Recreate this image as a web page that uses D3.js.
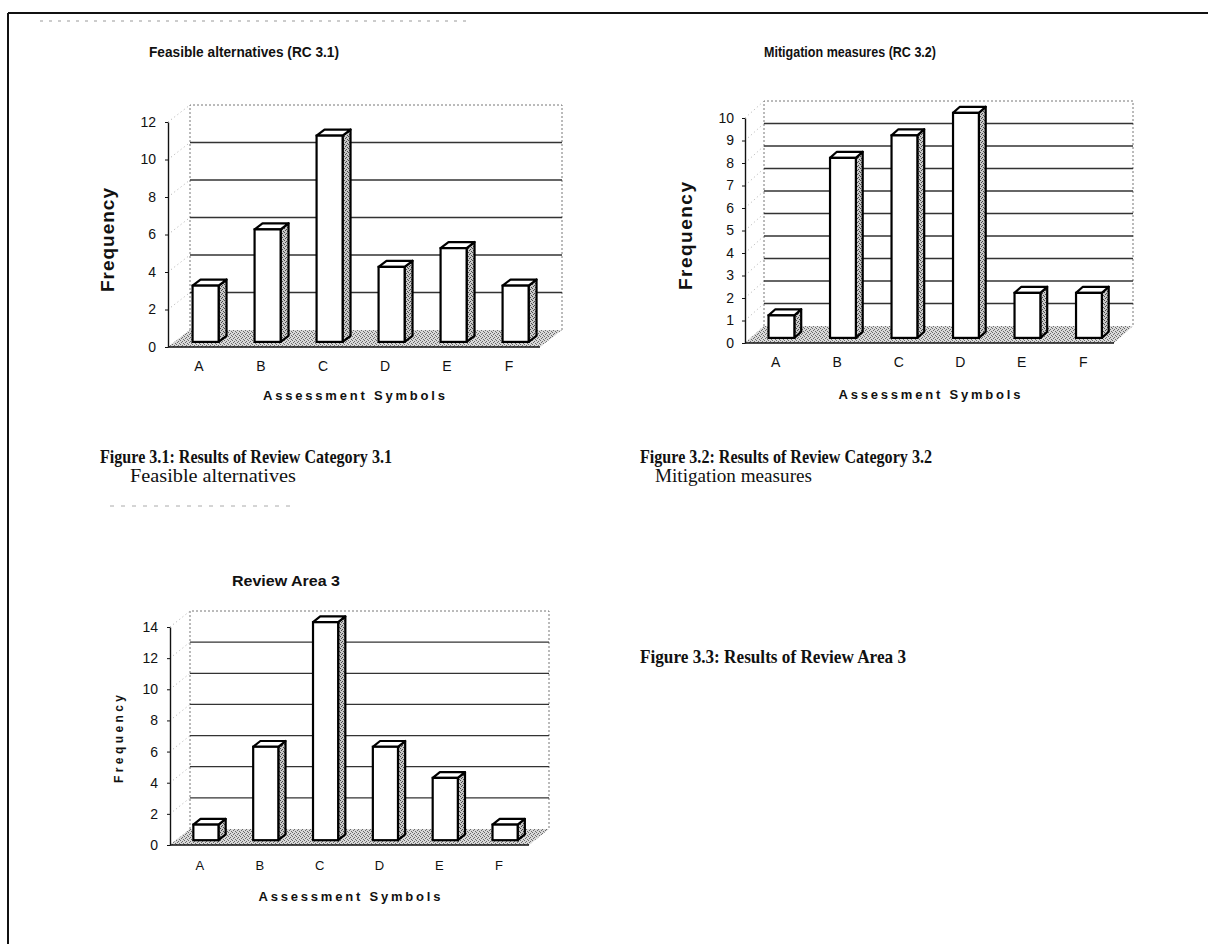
<!DOCTYPE html>
<html>
<head>
<meta charset="utf-8">
<script src="https://cdn.jsdelivr.net/npm/d3@7"></script>
<style>
  html, body { margin: 0; padding: 0; background: #fff; }
  svg { display: block; }
</style>
</head>
<body>
<svg id="page" width="1208" height="944"></svg>
<script>
// Assessment symbols shared by all three charts
const categories = ["A", "B", "C", "D", "E", "F"];

// Frequencies per assessment symbol
const feasibleValues   = [3, 6, 11, 4, 5, 3];   // RC 3.1
const mitigationValues = [1, 8, 9, 10, 2, 2];   // RC 3.2
const reviewAreaValues = [1, 6, 14, 6, 4, 1];   // Review Area 3

// Value-axis tick labels
const feasibleTicks   = [0, 2, 4, 6, 8, 10, 12];
const mitigationTicks = [0, 1, 2, 3, 4, 5, 6, 7, 8, 9, 10];
const reviewAreaTicks = [0, 2, 4, 6, 8, 10, 12, 14];

// Titles and captions
const chartTitles = ["Feasible alternatives (RC 3.1)", "Mitigation measures (RC 3.2)", "Review Area 3"];
const xAxisTitle = "Assessment Symbols";
const yAxisTitle = "Frequency";

const svg = d3.select("#page");
const defs = svg.append("defs");
const SANS = "Liberation Sans, Arial, sans-serif";

// stippled shading used on column sides and on the floor
function stipple(id, bg, dot) {
  const p = defs.append("pattern").attr("id", id)
    .attr("width", 4).attr("height", 4).attr("patternUnits", "userSpaceOnUse");
  p.append("rect").attr("width", 4).attr("height", 4).attr("fill", bg);
  [[0, 0], [2, 1], [1, 2], [3, 3]].forEach(([x, y]) =>
    p.append("rect").attr("x", x).attr("y", y).attr("width", 1).attr("height", 1).attr("fill", dot));
}
stipple("sideShade", "#c8c8c8", "#4a4a4a");
stipple("floorShade", "#d8d8d8", "#6a6a6a");

// page frame (top rule and left rule)
svg.append("line").attr("x1", 8).attr("x2", 1208).attr("y1", 13).attr("y2", 13)
  .attr("stroke", "#111").attr("stroke-width", 2);
svg.append("line").attr("x1", 8).attr("x2", 8).attr("y1", 13).attr("y2", 944)
  .attr("stroke", "#111").attr("stroke-width", 2);
// faint ruled marks under the frame and under the first caption
svg.append("line").attr("x1", 40).attr("x2", 470).attr("y1", 21).attr("y2", 21)
  .attr("stroke", "#999").attr("stroke-width", 1).attr("stroke-dasharray", "3,6");
svg.append("line").attr("x1", 110).attr("x2", 290).attr("y1", 506).attr("y2", 506)
  .attr("stroke", "#aaa").attr("stroke-width", 1).attr("stroke-dasharray", "4,7");

function drawChart(cfg) {
  const g = svg.append("g");
  const { x0, x1, yBase, yTop, dx, dy, max } = cfg;

  const x = d3.scaleBand().domain(categories).range([x0, x1]);
  const y = d3.scaleLinear().domain([0, max]).range([yBase, yTop]);

  // back wall outline (dotted)
  g.append("path")
    .attr("d", `M${x0 + dx},${yBase + dy} V${yTop + dy} H${x1 + dx} V${yBase + dy}`)
    .attr("fill", "none").attr("stroke", "#777").attr("stroke-width", 1)
    .attr("stroke-dasharray", "2,2");

  // back wall gridlines
  g.append("g").selectAll("line").data(cfg.ticks.filter(t => t > 0 && t < max)).join("line")
    .attr("x1", x0 + dx).attr("x2", x1 + dx)
    .attr("y1", d => y(d) + dy).attr("y2", d => y(d) + dy)
    .attr("stroke", "#333").attr("stroke-width", 1.3);

  // side wall connectors
  g.append("g").selectAll("line").data(cfg.ticks).join("line")
    .attr("x1", x0).attr("x2", x0 + dx)
    .attr("y1", d => y(d)).attr("y2", d => y(d) + dy)
    .attr("stroke", "#999").attr("stroke-width", 0.8).attr("stroke-dasharray", "1,3");

  // floor
  g.append("path")
    .attr("d", `M${x0},${yBase} L${x1},${yBase} L${x1 + dx},${yBase + dy} L${x0 + dx},${yBase + dy} Z`)
    .attr("fill", "url(#floorShade)").attr("stroke", "none");
  g.append("line").attr("x1", x0).attr("x2", x1).attr("y1", yBase).attr("y2", yBase)
    .attr("stroke", "#111").attr("stroke-width", 1.6);

  // value axis
  const yAxis = g.append("g").attr("transform", `translate(${x0},0)`)
    .call(d3.axisLeft(y).tickValues(cfg.ticks).tickSize(3).tickSizeOuter(0).tickPadding(cfg.tickPad));
  yAxis.select(".domain").attr("stroke", "#111").attr("stroke-width", 1.4);
  yAxis.selectAll(".tick line").attr("stroke", "#111");
  yAxis.selectAll("text").attr("font-family", SANS)
    .attr("font-size", cfg.tickFont).attr("fill", "#111");

  // category labels
  const xAxis = g.append("g").attr("transform", `translate(0,${yBase + cfg.catGap})`)
    .call(d3.axisBottom(x).tickSize(0).tickPadding(0));
  xAxis.select(".domain").remove();
  xAxis.selectAll("text").attr("font-family", SANS)
    .attr("font-size", cfg.catFont).attr("fill", "#111");

  // columns
  const bw = x.bandwidth() * cfg.barFrac;
  const fx = dx * cfg.frontDepth, fy = dy * cfg.frontDepth;
  const bdx = dx * cfg.barDepth, bdy = dy * cfg.barDepth;
  const cols = g.append("g").selectAll("g").data(cfg.values.map((v, i) => ({ c: categories[i], v })))
    .join("g");
  const L = d => x(d.c) + (x.bandwidth() - bw) / 2 + fx;
  const R = d => L(d) + bw;
  const T = d => y(d.v) + fy;
  const B = yBase + fy;
  cols.append("path")
    .attr("d", d => `M${R(d)},${T(d)} L${R(d) + bdx},${T(d) + bdy} L${R(d) + bdx},${B + bdy} L${R(d)},${B} Z`)
    .attr("fill", "url(#sideShade)").attr("stroke", "#000").attr("stroke-width", 2.2).attr("stroke-linejoin", "round");
  cols.append("path")
    .attr("d", d => `M${L(d)},${T(d)} L${L(d) + bdx},${T(d) + bdy} L${R(d) + bdx},${T(d) + bdy} L${R(d)},${T(d)} Z`)
    .attr("fill", "#fff").attr("stroke", "#000").attr("stroke-width", 2.2).attr("stroke-linejoin", "round");
  cols.append("rect")
    .attr("x", L).attr("y", T).attr("width", bw).attr("height", d => B - T(d))
    .attr("fill", "#fff").attr("stroke", "#000").attr("stroke-width", 2.2);

  // chart title
  g.append("text").attr("x", cfg.titleX).attr("y", cfg.titleY).attr("text-anchor", "middle")
    .attr("font-family", SANS).attr("font-weight", "bold")
    .attr("font-size", cfg.titleFont).attr("fill", "#111")
    .attr("textLength", cfg.titleLen).attr("lengthAdjust", "spacingAndGlyphs")
    .text(cfg.title);

  // category axis title, centred under the categories
  g.append("text").attr("x", (x0 + x1) / 2).attr("y", cfg.xtY).attr("text-anchor", "middle")
    .attr("font-family", SANS).attr("font-weight", "bold")
    .attr("font-size", cfg.xtFont).attr("fill", "#111")
    .attr("textLength", cfg.xtLen).attr("lengthAdjust", "spacing")
    .text(xAxisTitle);

  // value axis title
  g.append("text")
    .attr("transform", `translate(${cfg.ytX},${cfg.ytY}) rotate(-90)`)
    .attr("text-anchor", "middle")
    .attr("font-family", SANS).attr("font-weight", "bold")
    .attr("font-size", cfg.ytFont).attr("fill", "#111")
    .attr("textLength", cfg.ytLen).attr("lengthAdjust", "spacing")
    .text(yAxisTitle);
}

drawChart({
  values: feasibleValues, ticks: feasibleTicks, max: 12,
  x0: 168, x1: 540, yBase: 347, yTop: 122, dx: 22, dy: -17,
  barFrac: 0.42, frontDepth: 0.3, barDepth: 0.36,
  tickFont: 14, tickPad: 9, catFont: 14, catGap: 14,
  title: chartTitles[0], titleX: 244, titleY: 57, titleFont: 15, titleLen: 190,
  xtY: 400, xtFont: 13, xtLen: 182,
  ytX: 114, ytY: 240, ytFont: 19, ytLen: 104
});

drawChart({
  values: mitigationValues, ticks: mitigationTicks, max: 10,
  x0: 745, x1: 1114, yBase: 343, yTop: 118, dx: 19, dy: -17,
  barFrac: 0.42, frontDepth: 0.3, barDepth: 0.36,
  tickFont: 14, tickPad: 8, catFont: 14, catGap: 14,
  title: chartTitles[1], titleX: 850, titleY: 57, titleFont: 15, titleLen: 172,
  xtY: 399, xtFont: 13, xtLen: 182,
  ytX: 692, ytY: 236, ytFont: 19, ytLen: 108
});

drawChart({
  values: reviewAreaValues, ticks: reviewAreaTicks, max: 14,
  x0: 170, x1: 529, yBase: 845, yTop: 627, dx: 20, dy: -16,
  barFrac: 0.42, frontDepth: 0.3, barDepth: 0.36,
  tickFont: 14, tickPad: 9, catFont: 13, catGap: 16,
  title: chartTitles[2], titleX: 286, titleY: 586, titleFont: 14, titleLen: 108,
  xtY: 901, xtFont: 13, xtLen: 182,
  ytX: 123, ytY: 739, ytFont: 12, ytLen: 88
});

// figure captions
const captions = [
  { t: "Figure 3.1:  Results of Review Category 3.1", x: 100, y: 463, w: 292, bold: true },
  { t: "Feasible alternatives", x: 130, y: 482, w: 166, bold: false },
  { t: "Figure 3.2:  Results of Review Category 3.2", x: 640, y: 463, w: 292, bold: true },
  { t: "Mitigation measures", x: 655, y: 482, w: 157, bold: false },
  { t: "Figure 3.3: Results of Review Area 3", x: 640, y: 663, w: 266, bold: true }
];
svg.append("g").selectAll("text").data(captions).join("text")
  .attr("x", d => d.x).attr("y", d => d.y)
  .attr("font-family", "Liberation Serif, Times New Roman, serif")
  .attr("font-weight", d => d.bold ? "bold" : "normal")
  .attr("font-size", 19).attr("fill", "#111")
  .attr("textLength", d => d.w).attr("lengthAdjust", "spacingAndGlyphs")
  .text(d => d.t);
</script>
</body>
</html>
